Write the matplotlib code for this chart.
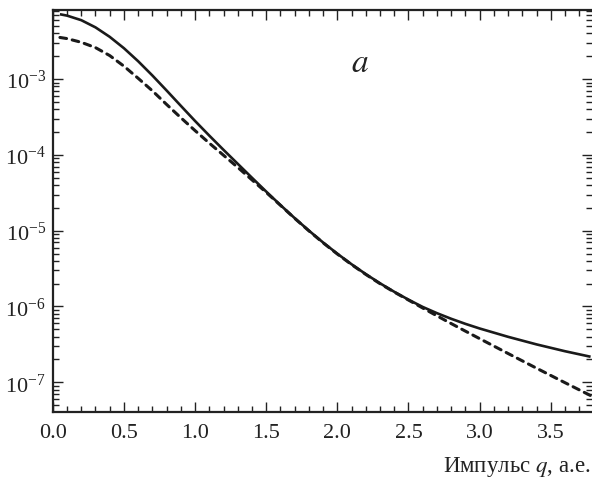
import matplotlib

matplotlib.use("Agg")
import matplotlib.pyplot as plt
import numpy as np
from matplotlib.ticker import LogLocator, MultipleLocator, LogFormatterMathtext, NullFormatter

plt.rcParams["font.family"] = ["Liberation Serif", "DejaVu Serif"]
plt.rcParams["mathtext.fontset"] = "stix"

# Momentum q, a.u. (same grid for both curves)
q = [0.05, 0.1, 0.2, 0.3, 0.4, 0.5, 0.6, 0.7, 0.8, 0.9, 1.0, 1.1, 1.2, 1.3, 1.4,
     1.5, 1.6, 1.7, 1.8, 1.9, 2.0, 2.1, 2.2, 2.3, 2.4, 2.5, 2.6, 2.7, 2.8, 2.9,
     3.0, 3.1, 3.2, 3.4, 3.6, 3.78]

# log10 of the plotted quantity
log_solid = [-2.145, -2.163, -2.223, -2.318, -2.443, -2.593, -2.765, -2.953, -3.151,
             -3.353, -3.553, -3.746, -3.934, -4.118, -4.302, -4.484, -4.662, -4.834,
             -4.999, -5.156, -5.304, -5.443, -5.573, -5.694, -5.806, -5.910, -6.006,
             -6.088, -6.162, -6.229, -6.290, -6.345, -6.400, -6.500, -6.590, -6.663]
log_dashed = [-2.451, -2.466, -2.515, -2.585, -2.690, -2.830, -2.990, -3.155, -3.335,
              -3.510, -3.680, -3.845, -4.005, -4.165, -4.330, -4.495, -4.665, -4.837,
              -5.002, -5.160, -5.308, -5.447, -5.577, -5.699, -5.810, -5.915, -6.020,
              -6.123, -6.225, -6.325, -6.424, -6.522, -6.620, -6.814, -7.005, -7.175]

fig = plt.figure(figsize=(5.92, 4.85), dpi=100, facecolor="white")
ax = fig.add_axes([0.0892, 0.1478, 0.9108, 0.8295])

ax.plot(q, 10.0 ** np.array(log_solid), color="#1a1a1a", lw=1.9, solid_capstyle="butt")
ax.plot(q, 10.0 ** np.array(log_dashed), color="#1a1a1a", lw=2.2,
        dashes=(2.2, 1.9), dash_capstyle="round")

ax.set_yscale("log")
ax.set_xlim(0.0, 3.79)
ax.set_ylim(10 ** -7.396, 10 ** -2.089)

ax.xaxis.set_major_locator(MultipleLocator(0.5))
ax.xaxis.set_minor_locator(MultipleLocator(0.1))
ax.yaxis.set_major_locator(LogLocator(base=10, numticks=20))
ax.yaxis.set_minor_locator(LogLocator(base=10, subs=np.arange(2, 10), numticks=20))
ax.yaxis.set_major_formatter(LogFormatterMathtext())
ax.yaxis.set_minor_formatter(NullFormatter())
ax.xaxis.set_major_formatter(lambda v, p: f"{v:.1f}")

ax.tick_params(which="both", direction="in", top=True, right=True, width=1.0, color="#222222",
               labelsize=16, labelcolor="#222222")
ax.tick_params(which="major", length=7)
ax.tick_params(which="minor", length=4)
ax.tick_params(axis="x", which="major", pad=8)
ax.tick_params(axis="y", which="major", pad=5)

for s in ax.spines.values():
    s.set_linewidth(1.6)
    s.set_color("#222222")
ax.spines["right"].set_visible(False)

ax.text(2.16, 10 ** -2.79, "$a$", fontsize=24, ha="center", va="center", color="#222222")

fig.text(0.998, 0.012, "Импульс $q$, а.е.", fontsize=16.5, ha="right", va="bottom",
         color="#222222")

plt.savefig("out.png", dpi=100, facecolor="white")
plt.close()
